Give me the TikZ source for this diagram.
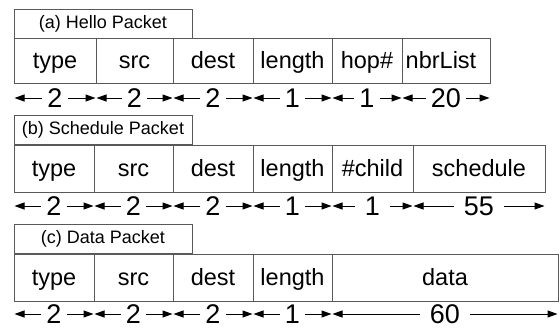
\documentclass[tikz,border=0pt]{standalone}
\usepackage{fontspec}
\setmainfont{Liberation Sans}
\usetikzlibrary{arrows.meta}

\tikzset{
  boxline/.style={draw=black!65, line width=1pt},
  field/.style={boxline, rectangle, inner sep=0pt, minimum height=45,
    font=\fontsize{23.5}{26}\selectfont, text height=17pt, text depth=2pt},
  title/.style={boxline, rectangle, inner sep=0pt, minimum width=178, minimum height=29,
    font=\fontsize{18}{20}\selectfont, text height=13pt, text depth=4pt},
  num/.style={inner xsep=5pt, inner ysep=0pt, font=\fontsize{27}{30}\selectfont,
    text height=19.5pt, text depth=0pt},
  wide/.style={inner xsep=10pt},
  dim/.style={draw=black, line width=1pt, -{Triangle[length=10pt, width=7pt]}, shorten >=1pt}
}

\begin{document}
\begin{tikzpicture}[x=1pt, y=-1pt]
\useasboundingbox (0,0) rectangle (560,327);

% ---------- (a) Hello packet ----------
\node[title] (ta) at (103,23.5) {(a) Hello Packet};
\foreach \nm/\l/\r/\txt in {a1/14/96/type, a2/96/173/src, a3/173/253/dest,
    a4/253/332/length, a5/332/402/hop\#}
  \node[field, minimum width=\r-\l] (\nm) at ({(\l+\r)/2},60.5) {\txt};
\node[field, minimum width=88] (a6) at (446,60.5) {\hspace*{-10pt}nbrList};
\foreach \nm/\v in {a1/2, a2/2, a3/2, a4/1, a5/1, a6/20}{
  \node[num] (n\nm) at (\nm |- 0,98) {\v};
  \draw[dim] (n\nm.west) -- (n\nm.west -| \nm.west);
  \draw[dim] (n\nm.east) -- (n\nm.east -| \nm.east);
}

% ---------- (b) Schedule packet ----------
\node[title] (tb) at (103,130) {(b) Schedule Packet};
\foreach \nm/\l/\r/\txt in {b1/14/94/type, b2/94/173/src, b3/173/253/dest,
    b4/253/332/length, b5/332/413/\#child, b6/413/545/schedule}
  \node[field, minimum width=\r-\l, minimum height=47] (\nm) at ({(\l+\r)/2},168.5) {\txt};
\foreach \nm/\v/\st in {b1/2/num, b2/2/num, b3/2/num, b4/1/num, b5/1/wide, b6/55/wide}{
  \node[num,\st] (n\nm) at (\nm |- 0,206) {\v};
  \draw[dim] (n\nm.west) -- (n\nm.west -| \nm.west);
  \draw[dim] (n\nm.east) -- (n\nm.east -| \nm.east);
}

% ---------- (c) Data packet ----------
\node[title] (tc) at (103,239) {(c) Data Packet};
\foreach \nm/\l/\r/\txt in {c1/14/94/type, c2/94/173/src, c3/173/253/dest,
    c4/253/332/length, c5/332/558/data}
  \node[field, minimum width=\r-\l, minimum height=47] (\nm) at ({(\l+\r)/2},277.5) {\txt};
\foreach \nm/\v/\st in {c1/2/num, c2/2/num, c3/2/num, c4/1/num, c5/60/wide}{
  \node[num,\st] (n\nm) at (\nm |- 0,314) {\v};
  \draw[dim] (n\nm.west) -- (n\nm.west -| \nm.west);
  \draw[dim] (n\nm.east) -- (n\nm.east -| \nm.east);
}
\end{tikzpicture}
\end{document}
